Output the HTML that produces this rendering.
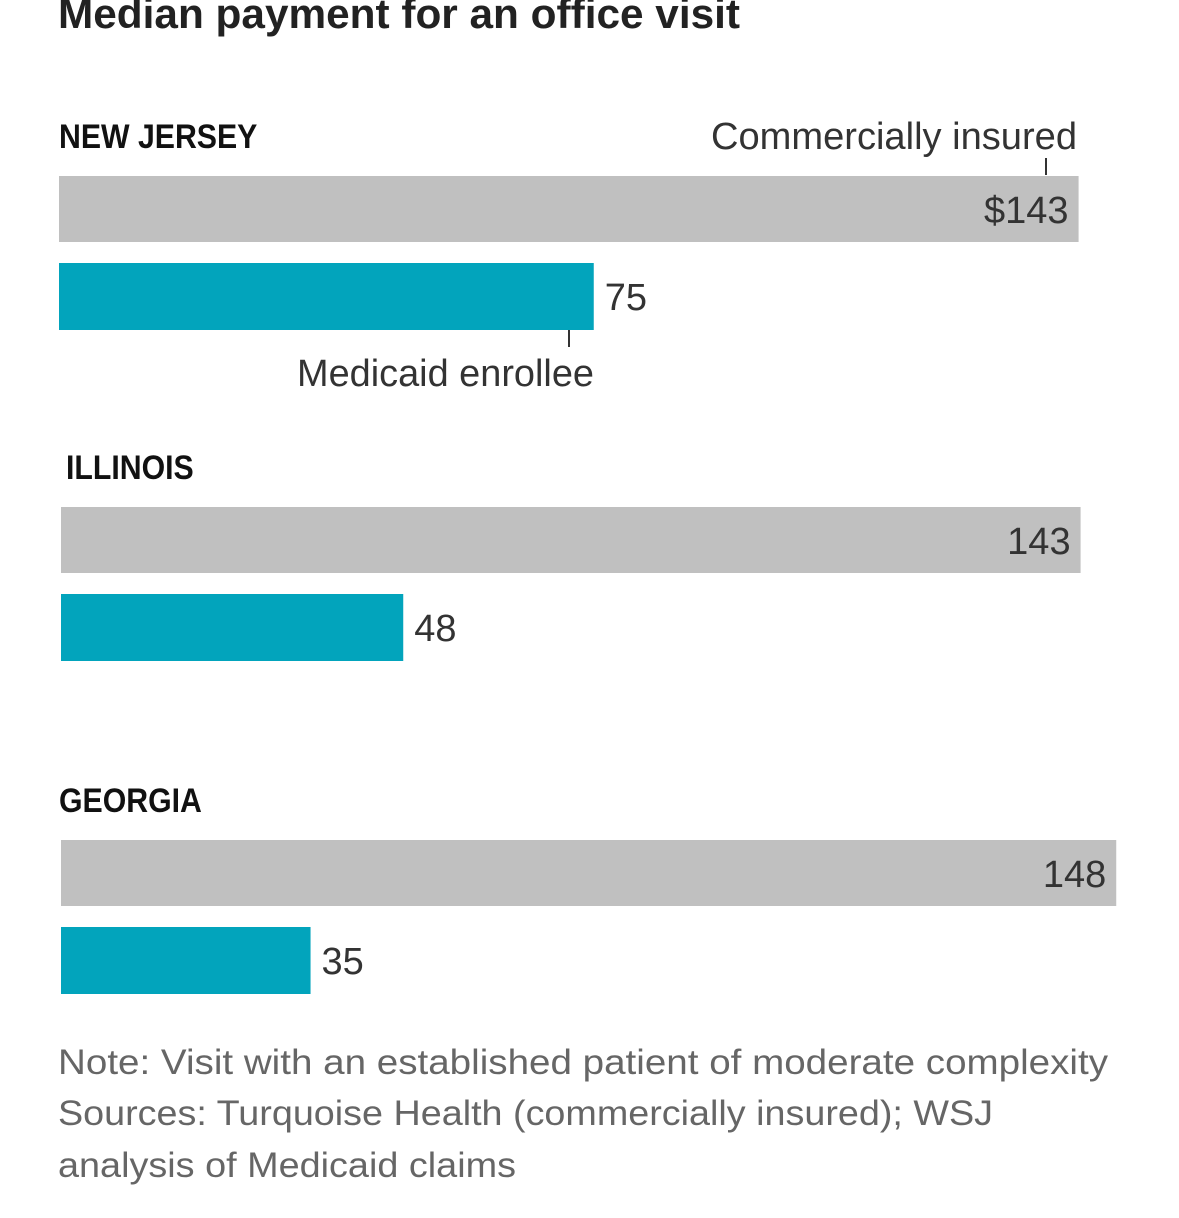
<!DOCTYPE html>
<html><head><meta charset="utf-8"><style>
html,body{margin:0;padding:0;background:#fff;width:1179px;height:1218px;overflow:hidden}
svg text{font-family:"Liberation Sans",sans-serif}
</style></head><body>
<svg width="1179" height="1218">
<text x="58" y="28" font-size="42" font-weight="bold" fill="#222" textLength="682" lengthAdjust="spacingAndGlyphs">Median payment for an office visit</text>
<g id="bars"></g>
<text x="1077" y="149" font-size="38" fill="#333" text-anchor="end" textLength="366" lengthAdjust="spacingAndGlyphs">Commercially insured</text>
<line x1="1046" y1="158" x2="1046" y2="175" stroke="#333" stroke-width="2"/>
<text x="594" y="386" font-size="38" fill="#333" text-anchor="end" textLength="297" lengthAdjust="spacingAndGlyphs">Medicaid enrollee</text>
<line x1="569" y1="330" x2="569" y2="347" stroke="#333" stroke-width="2"/>
<g font-size="35" fill="#666">
<text x="58" y="1074" textLength="1050" lengthAdjust="spacingAndGlyphs">Note: Visit with an established patient of moderate complexity</text>
<text x="58" y="1125" textLength="935" lengthAdjust="spacingAndGlyphs">Sources: Turquoise Health (commercially insured); WSJ</text>
<text x="58" y="1177" textLength="458" lengthAdjust="spacingAndGlyphs">analysis of Medicaid claims</text>
</g>
</svg>
<script>
const states=["NEW JERSEY","ILLINOIS","GEORGIA"];
const commercial=[143,143,148];
const medicaid=[75,48,35];
const commercialLabels=["$143","143","148"];
const medicaidLabels=["75","48","35"];
const svgNS="http://www.w3.org/2000/svg";
const g=document.getElementById('bars');
const x0=[59,61,61], groupTop=[176,507,840];
const scale=v=>v*7.13;
function mk(tag,attrs){const e=document.createElementNS(svgNS,tag);for(const k in attrs)e.setAttribute(k,attrs[k]);g.appendChild(e);return e;}
states.forEach((s,i)=>{
  const top=groupTop[i];
  const lx=i==1?66:59;
  const lab=mk('text',{x:lx,y:top-28,'font-size':34,'font-weight':'bold',fill:'#111',transform:`translate(${lx},0) scale(0.89,1) translate(${-lx},0)`});
  lab.textContent=s;
  
  
  const w1=scale(commercial[i]);
  const r1=mk('rect',{x:x0[i],y:top,width:w1,height:66,fill:'#c0c0c0'});
  
  
  const t1=mk('text',{x:x0[i]+w1-10,y:top+47,'font-size':38,fill:'#333','text-anchor':'end'});
  t1.textContent=commercialLabels[i];
  
  
  const w2=scale(medicaid[i]);
  const r2=mk('rect',{x:x0[i],y:top+87,width:w2,height:67,fill:'#02a4bc'});
  
  
  const t2=mk('text',{x:x0[i]+w2+11,y:top+134,'font-size':38,fill:'#333'});
  t2.textContent=medicaidLabels[i];
  
  
});
</script>
</body></html>
